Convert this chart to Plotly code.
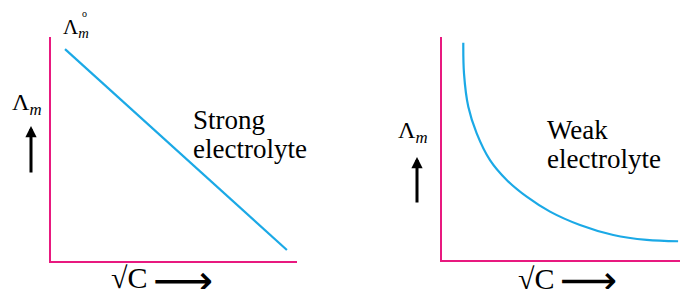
import plotly.graph_objects as go

W, H = 680, 289

# Strong electrolyte: straight line (axis units 0-10)
strong_x = [0.57, 9.59]
strong_y = [9.46, 0.49]

# Weak electrolyte: steep fall then flattening (axis units 0-10)
weak_x = [0.895, 0.924, 1.105, 1.458, 2.017, 2.718, 3.559, 4.538, 5.798, 7.197, 8.601, 9.92]
weak_y = [9.74, 8.37, 6.87, 5.68, 4.48, 3.59, 2.84, 2.17, 1.57, 1.12, 0.90, 0.84]

PINK = "#e8197f"
BLUE = "#1ba9e6"
SERIF = "Liberation Serif"

def px(x):
    return x / W

def py(y):
    return 1 - y / H

fig = go.Figure()
fig.add_trace(go.Scatter(x=strong_x, y=strong_y, mode="lines",
                         line=dict(color=BLUE, width=2.2), xaxis="x", yaxis="y",
                         hoverinfo="skip", showlegend=False))
fig.add_trace(go.Scatter(x=weak_x, y=weak_y, mode="lines",
                         line=dict(color=BLUE, width=2.2, shape="spline", smoothing=1.0),
                         xaxis="x2", yaxis="y2", hoverinfo="skip", showlegend=False))

ax_common = dict(showgrid=False, zeroline=False, showticklabels=False, ticks="",
                 showline=True, linecolor=PINK, linewidth=2, range=[0, 10], fixedrange=True)

fig.update_layout(
    width=W, height=H,
    margin=dict(l=0, r=0, t=0, b=0),
    paper_bgcolor="white", plot_bgcolor="white",
    font=dict(family=SERIF),
    xaxis=dict(domain=[px(51), px(297)], anchor="y", **ax_common),
    yaxis=dict(domain=[py(261), py(37)], anchor="x", **ax_common),
    xaxis2=dict(domain=[px(442), 1.0], anchor="y2", **ax_common),
    yaxis2=dict(domain=[py(260), py(37)], anchor="x2", **ax_common),
    showlegend=False,
)

anns = []

def text(x, y, s, size, xanchor="left", yanchor="middle", family=SERIF):
    anns.append(dict(x=px(x), y=py(y), xref="paper", yref="paper", text=s,
                     showarrow=False, xanchor=xanchor, yanchor=yanchor, align="left",
                     font=dict(family=family, size=size, color="black")))

def uparrow(x, ytop, ybot):
    anns.append(dict(x=px(x), y=py(ytop), xref="paper", yref="paper", text="",
                     showarrow=True, ax=0, ay=ybot - ytop, axref="pixel", ayref="pixel",
                     arrowhead=2, arrowsize=0.75, arrowwidth=3, arrowcolor="black"))

# Left panel labels
text(61, 28, "Λ<sub><i>m</i></sub>", 21)
text(80, 13, "o", 10)
text(10, 104, "Λ<sub><i>m</i></sub>", 24)
uparrow(31, 126, 174)
text(191, 120, "Strong", 27)
text(191, 149, "electrolyte", 27)
text(109, 277, "√C", 30)
text(151, 280, "⟶", 42, family="DejaVu Sans")

# Right panel labels
text(396, 132, "Λ<sub><i>m</i></sub>", 24)
uparrow(417, 157, 204)
text(545, 130, "Weak", 27)
text(545, 159, "electrolyte", 27)
text(516, 278, "√C", 30)
text(558, 280, "⟶", 40, family="DejaVu Sans")

fig.update_layout(annotations=anns)
fig.write_html("out.html", config={"displayModeBar": False},
               post_script="document.body.style.margin='0';document.body.style.overflow='hidden';")
